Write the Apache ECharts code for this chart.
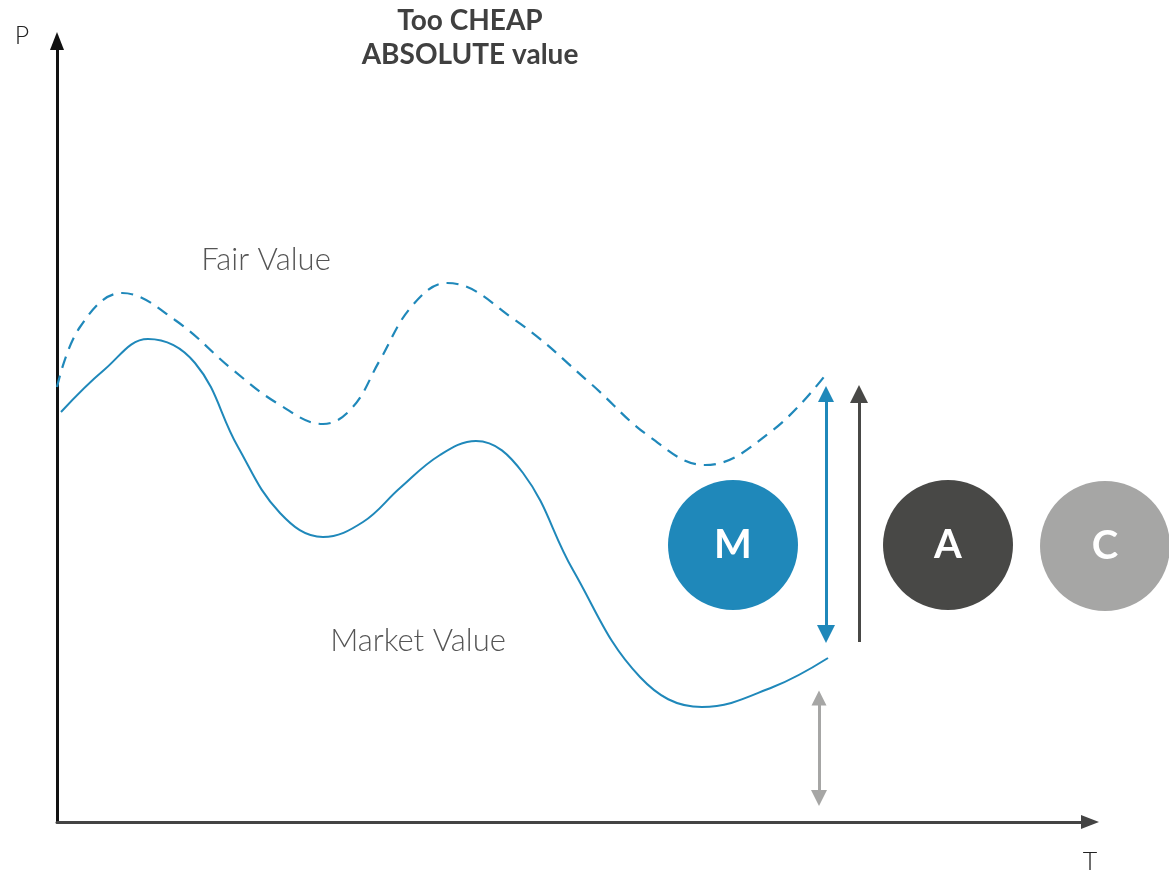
<!DOCTYPE html>
<html>
<head>
<meta charset="utf-8">
<script src="https://cdn.jsdelivr.net/npm/echarts@6/dist/echarts.min.js"></script>
<style>
html,body{margin:0;padding:0;background:#fff;}
#chart{width:1169px;height:872px;}
</style>
</head>
<body>
<div id="chart"></div>
<script>
// Data (units: T horizontally, P vertically; 1 unit = 10 px)
// points: start, extremes, inflections and quarter points
const fairValueT = [0, 2.3, 6.5, 11.8, 17.6, 22.3, 26.6, 29.5, 32.3, 35.5, 39.0, 45.8, 53.3, 59.3, 64.8, 71.6, 77.0];
const fairValueP = [43.5, 49.5, 52.9, 50.2, 45.2, 41.7, 39.8, 41.4, 46.2, 51.6, 53.9, 50.2, 43.9, 38.5, 35.7, 39.2, 44.9];
const marketValueT = [0.4, 4.7, 9.1, 13.8, 18.1, 22.3, 26.6, 30.6, 34.3, 38.3, 41.9, 46.6, 51.6, 58.3, 64.5, 71.6, 77.1];
const marketValueP = [41.0, 45.2, 48.3, 45.9, 37.5, 30.9, 28.5, 30.0, 33.4, 36.7, 38.1, 34.9, 25.2, 14.5, 11.5, 13.5, 16.4];
const circleNames = ['M', 'A', 'C'];
const circleT = [67.6, 89.1, 104.8];
const circleP = [27.7, 27.7, 27.6];
// arrows: [t, pStart, pEnd]
const blueArrow = [76.9, 42.8, 18.8];
const darkArrow = [80.2, 18.0, 42.8];
const grayArrow = [76.2, 12.4, 2.4];

const blue = '#1f88ba', dark = '#484846', gray = '#a6a6a5';
const font = 'Lato, "Open Sans", sans-serif';

const chart = echarts.init(document.getElementById('chart'), null, {renderer: 'canvas'});
const zip = (a, b) => a.map((v, i) => [v, b[i]]);

chart.setOption({
  animation: false,
  backgroundColor: '#fff',
  grid: {left: 57, right: 79, top: 41, bottom: 50, containLabel: false},
  xAxis: {
    type: 'value', min: 0, max: 103.3,
    axisLine: {show: true, lineStyle: {color: '#444', width: 3}, symbol: ['none', 'triangle'], symbolSize: [14, 18]},
    axisTick: {show: false}, axisLabel: {show: false}, splitLine: {show: false}
  },
  yAxis: {
    type: 'value', min: 0, max: 78.1,
    axisLine: {show: true, lineStyle: {color: '#111', width: 3}, symbol: ['none', 'triangle'], symbolSize: [14, 18]},
    axisTick: {show: false}, axisLabel: {show: false}, splitLine: {show: false}
  },
  series: [
    {
      type: 'line', name: 'Fair Value', data: zip(fairValueT, fairValueP),
      smooth: 0.4, showSymbol: false, symbol: 'none',
      lineStyle: {color: blue, width: 2.2, type: [12, 8]}
    },
    {
      type: 'line', name: 'Market Value', data: zip(marketValueT, marketValueP),
      smooth: 0.4, showSymbol: false, symbol: 'none',
      lineStyle: {color: blue, width: 2}
    },
    {
      type: 'lines', coordinateSystem: 'cartesian2d',
      symbol: ['triangle', 'triangle'], symbolSize: [16, 18],
      lineStyle: {color: blue, width: 3, opacity: 1},
      data: [{coords: [[blueArrow[0], blueArrow[1]], [blueArrow[0], blueArrow[2]]]}]
    },
    {
      type: 'lines', coordinateSystem: 'cartesian2d',
      symbol: ['none', 'triangle'], symbolSize: [16, 18],
      lineStyle: {color: dark, width: 3, opacity: 1},
      data: [{coords: [[darkArrow[0], darkArrow[1]], [darkArrow[0], darkArrow[2]]]}]
    },
    {
      type: 'lines', coordinateSystem: 'cartesian2d',
      symbol: ['triangle', 'triangle'], symbolSize: [15, 16],
      lineStyle: {color: gray, width: 3, opacity: 1},
      data: [{coords: [[grayArrow[0], grayArrow[1]], [grayArrow[0], grayArrow[2]]]}]
    },
    {
      type: 'scatter', clip: false, symbolSize: 130,
      data: circleNames.map((n, i) => ({
        name: n, value: [circleT[i], circleP[i]],
        itemStyle: {color: [blue, dark, gray][i], opacity: 1}
      })),
      label: {show: true, position: 'inside', formatter: '{b}', color: '#fff', fontSize: 40, fontWeight: 'bold', fontFamily: font}
    }
  ],
  graphic: [
    {type: 'text', x: 470, y: 21, style: {text: 'Too CHEAP', font: 'bold 28px ' + font, fill: '#404040', align: 'center', verticalAlign: 'middle'}},
    {type: 'text', x: 470, y: 55, style: {text: 'ABSOLUTE value', font: 'bold 28px ' + font, fill: '#404040', align: 'center', verticalAlign: 'middle'}},
    {type: 'text', x: 22, y: 36, style: {text: 'P', font: '300 25px ' + font, fill: '#222', align: 'center', verticalAlign: 'middle'}},
    {type: 'text', x: 1090, y: 862, style: {text: 'T', font: '300 25px ' + font, fill: '#222', align: 'center', verticalAlign: 'middle'}},
    {type: 'text', x: 266, y: 260, style: {text: 'Fair Value', font: '300 31px ' + font, fill: '#555', align: 'center', verticalAlign: 'middle'}},
    {type: 'text', x: 418, y: 641, style: {text: 'Market Value', font: '300 31px ' + font, fill: '#555', align: 'center', verticalAlign: 'middle'}}
  ]
});
</script>
</body>
</html>
